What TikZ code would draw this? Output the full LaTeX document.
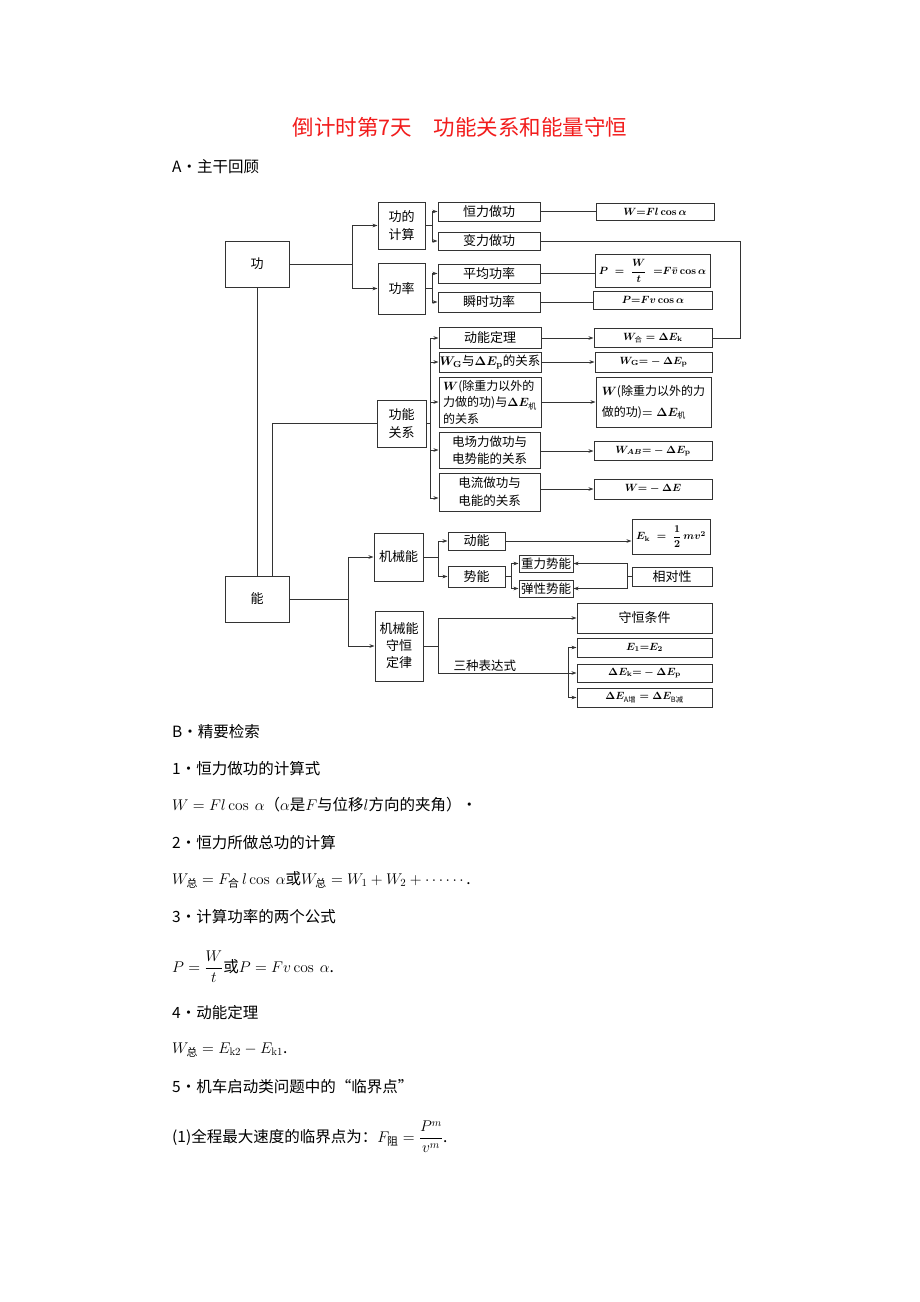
\documentclass[tikz,border=0pt]{standalone}
\usepackage{fix-cm}
\usepackage{amsmath}
\usepackage[no-math]{fontspec}
\setmainfont{Noto Sans CJK SC}
\usetikzlibrary{arrows.meta}
\definecolor{boxline}{HTML}{333333}
\definecolor{titlered}{HTML}{F21C1C}
\tikzset{
  bx/.style 2 args={draw=boxline, line width=1pt, minimum width=#1, minimum height=#2,
    inner sep=0pt, align=center, font=\fontsize{13}{18}\selectfont\boldmath},
  fbx/.style 2 args={bx={#1}{#2}, font=\fontsize{10.5}{13}\selectfont\boldmath},
  txt/.style={anchor=west, inner sep=0pt, font=\fontsize{15.5}{18}\selectfont},
  arr/.style={-{Stealth[length=5pt,width=3.6pt]}},
}
\begin{document}
\begin{tikzpicture}[x=1pt,y=-1pt]
      \path[use as bounding box, fill=white] (0,0) rectangle (920,1302);
      \draw
        (460,127) node[font=\fontsize{21.5}{24}\selectfont, text=titlered] (title)
          {倒计时第7天\hspace{1em}功能关系和能量守恒}
        (172,167) node[txt] (parta) {A·主干回顾}
        (257,264) node[bx={64}{46}] (gong) {功}
        (401.5,225.5) node[bx={47}{47}] (jisuan) {功的\\计算}
        (401.5,288.5) node[bx={47}{51}] (gonglv) {功率}
        (489,211.5) node[bx={102}{19}] (hengli) {恒力做功}
        (489,241) node[bx={102}{18}] (bianli) {变力做功}
        (489,273.5) node[bx={102}{19}] (pingjun) {平均功率}
        (489,302) node[bx={102}{20}] (shunshi) {瞬时功率}
        (655,211.5) node[fbx={118}{17}] (wF) {$W{=}Fl\cos\alpha$}
        (652.5,271) node[fbx={115}{33}] (pW) {$P\;=\;\dfrac{W}{t}\;\;{=}F\bar{v}\cos\alpha$}
        (653,300) node[fbx={119}{18}] (pF) {$P{=}Fv\cos\alpha$}
        (401.5,423.5) node[bx={49}{47}] (gnrel) {功能\\关系}
        (490,338) node[bx={102}{21}] (dndl) {动能定理}
        (490,362) node[bx={102}{20}, font=\fontsize{12.5}{16}\selectfont\boldmath] (wgrel)
          {$W_{\mathrm{G}}$与$\Delta E_{\mathrm{p}}$的关系}
        (490,402) node[bx={102}{50}, align=left, font=\fontsize{12}{16.5}\selectfont\boldmath] (wqrel)
          {$W$(除重力以外的\\力做的功)与$\Delta E_{\text{机}}$\\的关系}
        (489.5,450) node[bx={101}{36}, font=\fontsize{12.5}{17}\selectfont] (dcrel) {电场力做功与\\电势能的关系}
        (489.5,492) node[bx={101}{38}, font=\fontsize{12.5}{18}\selectfont] (dlrel) {电流做功与\\电能的关系}
        (653,338) node[fbx={118}{19}] (whe) {$W_{\text{合}}=\Delta E_{\mathrm{k}}$}
        (653.5,362) node[fbx={117}{20}] (wg) {$W_{\mathrm{G}}{=}-\Delta E_{\mathrm{p}}$}
        (653.5,402) node[bx={115}{50}, align=left, font=\fontsize{12}{21}\selectfont\boldmath] (wq)
          {$W$(除重力以外的力\\做的功)$=\Delta E_{\text{机}}$}
        (653,451) node[fbx={118}{19}] (wab) {$W_{AB}{=}-\Delta E_{\mathrm{p}}$}
        (653,489) node[fbx={118}{20}] (we) {$W{=}-\Delta E$}
        (257,599) node[bx={64}{46}] (neng) {能}
        (398.5,557) node[bx={49}{48}] (jxn) {机械能}
        (399,646) node[bx={48}{70}, font=\fontsize{13}{17}\selectfont] (shdl) {机械能\\守恒\\定律}
        (476.5,541) node[bx={57}{18}] (dn) {动能}
        (476.5,576.5) node[bx={57}{21}] (sn) {势能}
        (671,536.5) node[fbx={78}{35}] (ek) {$E_{\mathrm{k}}\;=\;\dfrac{1}{2}\,mv^2$}
        (546,563.5) node[bx={54}{17}, font=\fontsize{12.5}{15}\selectfont] (zlsn) {重力势能}
        (546,588.5) node[bx={54}{17}, font=\fontsize{12.5}{15}\selectfont] (txsn) {弹性势能}
        (672,576.5) node[bx={80}{19}] (xdx) {相对性}
        (644.5,618) node[bx={135}{30}] (shtj) {守恒条件}
        (644.5,647.5) node[fbx={135}{19}] (e12) {$E_1{=}E_2$}
        (644.5,673) node[fbx={135}{18}] (dek) {$\Delta E_{\mathrm{k}}{=}-\Delta E_{\mathrm{p}}$}
        (644.5,697.5) node[fbx={135}{19}] (dea) {$\Delta E_{\text{A增}}=\Delta E_{\text{B减}}$}
        (172,732) node[txt] (partb) {B·精要检索}
        (172,769) node[txt] (item1) {1·恒力做功的计算式}
        (172,805) node[txt] (form1) {$W=Fl\cos\ \alpha$（$\alpha$是$F$与位移$l$方向的夹角）·}
        (172,843) node[txt] (item2) {2·恒力所做总功的计算}
        (172,880) node[txt] (form2) {$W_{\text{总}}=F_{\text{合}}\,l\cos\ \alpha$或$W_{\text{总}}=W_1+W_2+\cdots\cdots$.}
        (172,917) node[txt] (item3) {3·计算功率的两个公式}
        (172,967) node[txt] (form3) {$P=\dfrac{W}{t}$或$P=Fv\cos\ \alpha$.}
        (172,1013) node[txt] (item4) {4·动能定理}
        (172,1050) node[txt] (form4) {$W_{\text{总}}=E_{\mathrm{k2}}-E_{\mathrm{k1}}$.}
        (172,1087) node[txt] (item5) {5·机车启动类问题中的“临界点”}
        (172,1137) node[txt] (form5) {(1)全程最大速度的临界点为：$F_{\text{阻}}=\dfrac{P^{m}}{v^{m}}$.};
      \begin{scope}[draw=boxline, line width=1pt]
        \coordinate (b1) at (352,264);
        \coordinate (b2) at (432,225.5);
        \coordinate (b3) at (432,288.5);
        \coordinate (c1) at (740,241);
        \coordinate (b4) at (430,423.5);
        \coordinate (b5) at (348,599);
        \coordinate (b6) at (438,557);
        \coordinate (b7) at (511,576.5);
        \coordinate (b8) at (627,576.5);
        \coordinate (b9) at (438,646);
        \coordinate (b10) at (568,673);
        \draw (gong) -- (b1);
        \draw[arr] (b1) |- (jisuan);
        \draw[arr] (b1) |- (gonglv);
        \draw (jisuan) -- (b2);
        \draw[arr] (b2) |- (hengli);
        \draw[arr] (b2) |- (bianli);
        \draw (gonglv) -- (b3);
        \draw[arr] (b3) |- (pingjun);
        \draw[arr] (b3) |- (shunshi);
        \draw (hengli) -- (wF);
        \draw (pingjun.east) -- (pingjun.east -| pW.west);
        \draw (shunshi.east) -- (shunshi.east -| pF.west);
        \draw (bianli) -- (c1) |- (whe);
        \draw (gong) -- (neng);
        \draw (gnrel.west) -| ([xshift=15pt]neng.north);
        \draw (gnrel) -- (b4);
        \draw[arr] (b4) |- (dndl);
        \draw[arr] (b4) |- (wgrel);
        \draw[arr] (b4) |- (wqrel);
        \draw[arr] (b4) |- (dcrel);
        \draw[arr] (b4) |- ([yshift=-6pt]dlrel.west);
        \draw[arr] (dndl) -- (whe);
        \draw[arr] (wgrel) -- (wg);
        \draw[arr] (wqrel) -- (wq);
        \draw[arr] (dcrel.east |- wab) -- (wab);
        \draw[arr] (dlrel.east |- we) -- (we);
        \draw (neng) -- (b5);
        \draw[arr] (b5) |- (jxn);
        \draw[arr] (b5) |- (shdl);
        \draw (jxn) -- (b6);
        \draw[arr] (b6) |- (dn);
        \draw[arr] (b6) |- (sn);
        \draw[arr] (dn.east) -- (dn.east -| ek.west);
        \draw (sn) -- (b7);
        \draw[arr] (b7) |- (zlsn);
        \draw[arr] (b7) |- (txsn);
        \draw (xdx) -- (b8);
        \draw[arr] (b8) |- (zlsn);
        \draw[arr] (b8) |- (txsn);
        \draw (shdl) -- (b9);
        \draw[arr] (b9) |- (shtj);
        \draw (b9) |- node[pos=0.68, above=1pt, inner sep=0pt, font=\fontsize{12.5}{15}\selectfont] (sanzhong) {三种表达式} (b10);
        \draw[arr] (b10) |- (e12);
        \draw[arr] (b10) -- (dek);
        \draw[arr] (b10) |- (dea);
      \end{scope}
    \end{tikzpicture}
\end{document}
